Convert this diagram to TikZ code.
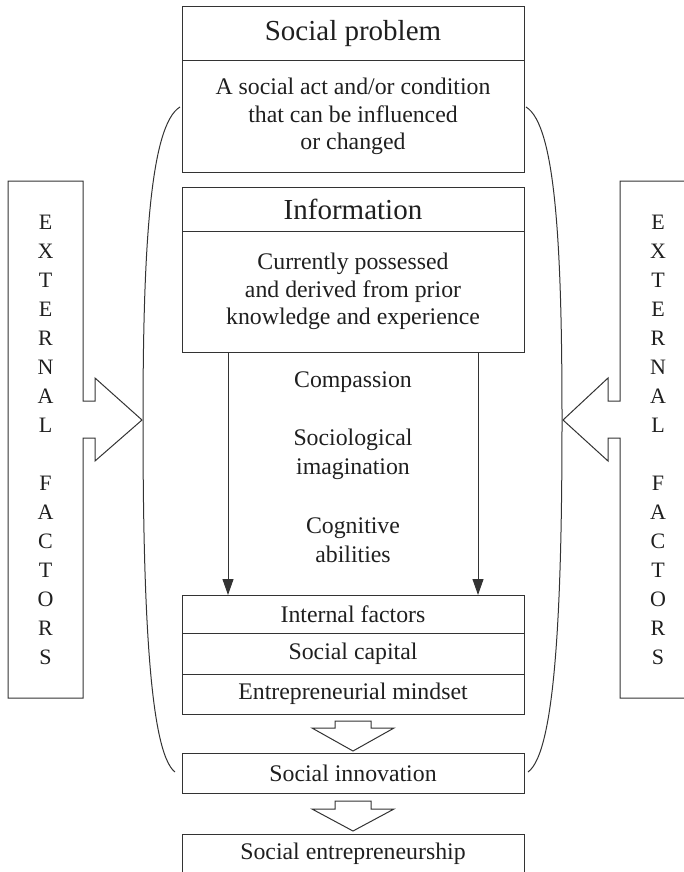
\documentclass[tikz,border=0pt]{standalone}
\usepackage{fontspec}
\setmainfont{Liberation Serif}
\usetikzlibrary{arrows.meta}

\begin{document}
\begin{tikzpicture}[x=1pt, y=-1pt,
  every node/.style={inner sep=0pt, outer sep=0pt, text=black!88},
  ln/.style={draw=black!80, line width=1pt},
  box/.style={ln, rectangle, minimum width=342pt, align=center},
  headfont/.style={font=\fontsize{29}{34}\selectfont},
  bodyfont/.style={font=\fontsize{23.8}{27.5}\selectfont},
  txt/.style={align=center, font=\fontsize{23.8}{29}\selectfont},
  letters/.style={align=center, font=\fontsize{22}{29}\selectfont},
  arr/.style={ln, -{Triangle[width=11pt, length=16pt]}},
  hollow/.style={ln, fill=white, line join=miter},
  bracket/.style={ln}
]
\useasboundingbox (0,0) rectangle (683,872);

% central column of boxes
\node[box, headfont, minimum height=54pt]  (sph) at (353,34)    {Social problem};
\node[box, bodyfont, minimum height=111pt] (spb) at (353,116.5) {A social act and/or condition\\that can be influenced\\or changed};
\node[box, headfont, minimum height=44pt]  (infh) at (353,209)  {Information};
\node[box, bodyfont, minimum height=121pt] (infb) at (353,291.5) {Currently possessed\\and derived from prior\\knowledge and experience};

\node[box, bodyfont, minimum height=38pt] (intf) at (353,614)   {Internal factors};
\node[box, bodyfont, minimum height=41pt] (scap) at (353,653.5) {Social capital};
\node[box, bodyfont, minimum height=40pt] (emind) at (353,694)  {Entrepreneurial mindset};
\node[box, bodyfont, minimum height=40pt] (sinn) at (353,773)   {Social innovation};
\node[box, bodyfont, minimum height=40pt] (sent) at (353,854)   {Social entrepreneurship};

% traits between the information box and the internal factors
\node[txt] (comp) at (353,382)   {Compassion};
\node[txt] (soci) at (353,454.5) {Sociological\\imagination};
\node[txt] (cogn) at (353,540.5) {Cognitive\\abilities};

% downward arrows
\draw[arr] ([xshift=-125pt]infb.south) -- ([xshift=-125pt]intf.north);
\draw[arr] ([xshift=125pt]infb.south) -- ([xshift=125pt]intf.north);

% hollow block arrows
\draw[hollow] (335,721) -- (335,728) -- (312,728) -- (353,751) -- (394,728) -- (371,728) -- (371,721) -- cycle;
\draw[hollow] (335,801) -- (335,809) -- (312,809) -- (353,831) -- (394,809) -- (371,809) -- (371,801) -- cycle;

% brackets enclosing the process
\coordinate (lt) at (180,107);
\coordinate (lb) at (175,772);
\coordinate (rt) at (526,107);
\coordinate (rb) at (528,772);
\draw[bracket] (lt) .. controls (150,125) and (143,250) .. (143,420)
                    .. controls (143,600) and (149,752) .. (lb);
\draw[bracket] (rt) .. controls (556,125) and (562,250) .. (562,420)
                    .. controls (562,600) and (556,752) .. (rb);

% external factors panels with their block arrows
\draw[ln, line join=miter] (83,401) -- (83,181) -- (8,181) -- (8,698) -- (83,698) -- (83,438)
  -- (95,438) -- (95,461) -- (142,420) -- (95,378) -- (95,401) -- cycle;
\draw[ln, line join=miter] (620,401) -- (620,181) -- (700,181) -- (700,698) -- (620,698) -- (620,438)
  -- (608,438) -- (608,461) -- (563,420) -- (608,378) -- (608,401) -- cycle;

\node[letters] (extl) at (45.5,439.6) {E\\X\\T\\E\\R\\N\\A\\L\\ \\F\\A\\C\\T\\O\\R\\S};
\node[letters] (extr) at (658,439.6) {E\\X\\T\\E\\R\\N\\A\\L\\ \\F\\A\\C\\T\\O\\R\\S};
\end{tikzpicture}
\end{document}
